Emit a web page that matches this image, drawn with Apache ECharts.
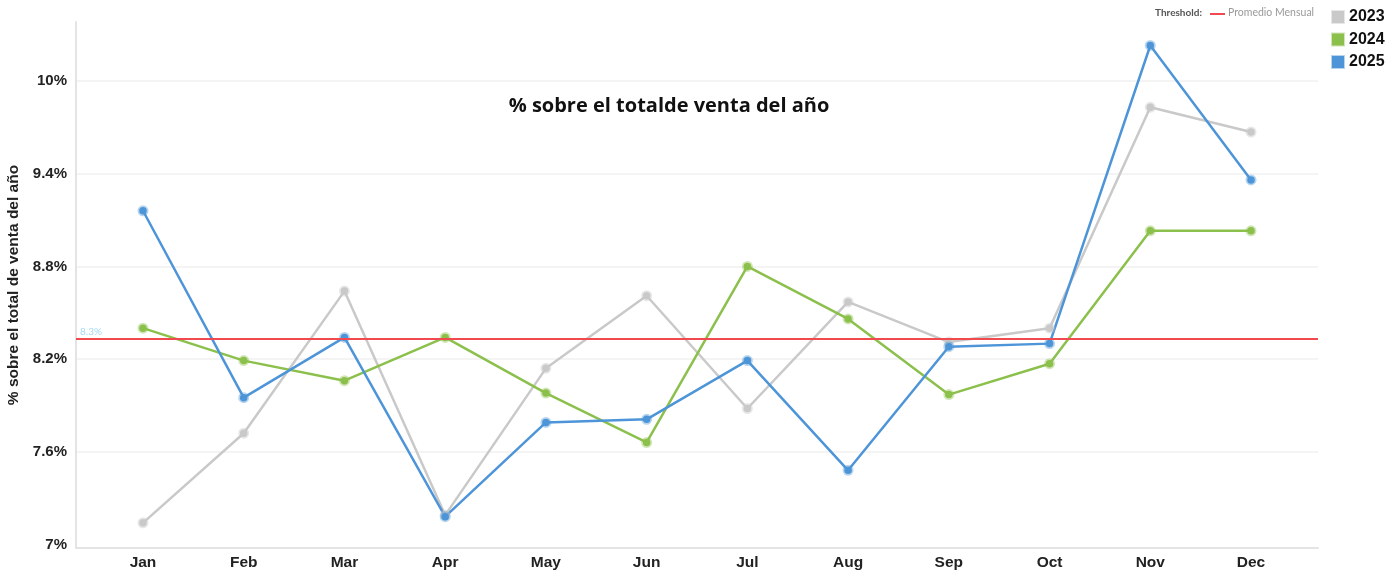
<!DOCTYPE html>
<html>
<head>
<meta charset="utf-8">
<script src="https://cdn.jsdelivr.net/npm/echarts@6/dist/echarts.min.js"></script>
<style>
  html, body { margin: 0; padding: 0; background: #fff; }
  #chart { width: 1397px; height: 571px; }
</style>
</head>
<body>
<div id="chart"></div>
<script>
  // datos (% sobre el total de venta del año)
  const months = ['Jan', 'Feb', 'Mar', 'Apr', 'May', 'Jun', 'Jul', 'Aug', 'Sep', 'Oct', 'Nov', 'Dec']
  const yLabels = [7, 7.6, 8.2, 8.8, 9.4, 10]
  const yGridLines = [7.6, 8.2, 8.8, 9.4, 10]
  const years = ['2023', '2024', '2025']
  const data2023 = [7.14, 7.72, 8.64, 7.19, 8.14, 8.61, 7.88, 8.57, 8.31, 8.40, 9.83, 9.67]
  const data2024 = [8.40, 8.19, 8.06, 8.34, 7.98, 7.66, 8.80, 8.46, 7.97, 8.17, 9.03, 9.03]
  const data2025 = [9.16, 7.95, 8.34, 7.18, 7.79, 7.81, 8.19, 7.48, 8.28, 8.30, 10.23, 9.36]
  const threshold = 8.333

  const colors = {
    '2023': ['#c9c9c9', 'rgba(201,201,201,0.45)'],
    '2024': ['#8cc04c', 'rgba(140,192,76,0.4)'],
    '2025': ['#4d95d8', 'rgba(77,149,216,0.4)']
  }

  const chart = echarts.init(document.getElementById('chart'))

  function makeSeries(name, values) {
    return {
      name: name,
      type: 'line',
      data: values.map((v, i) => [i, v]),
      symbol: 'circle',
      symbolSize: 7.5,
      showSymbol: true,
      lineStyle: { color: colors[name][0], width: 2.5 },
      itemStyle: {
        color: colors[name][0],
        borderColor: colors[name][1],
        borderWidth: 3.5
      },
      emphasis: { disabled: true },
      animation: false
    }
  }

  const series = [
    makeSeries('2023', data2023),
    makeSeries('2024', data2024),
    makeSeries('2025', data2025)
  ]
  // línea del promedio mensual
  series[2].markLine = {
    silent: true,
    symbol: 'none',
    lineStyle: { color: '#f04a50', width: 2, type: 'solid' },
    label: {
      position: 'insideStartTop',
      formatter: '8.3%',
      color: '#a6d8f2',
      fontSize: 10,
      fontFamily: 'Lato',
      distance: [4, 2]
    },
    data: [{ yAxis: threshold }]
  }

  const option = {
    backgroundColor: '#fff',
    title: {
      text: '% sobre el totalde venta del año',
      left: 664,
      top: 91,
      textAlign: 'center',
      textStyle: {
        fontFamily: 'Open Sans',
        fontWeight: 'bold',
        fontSize: 20,
        color: '#111'
      }
    },
    legend: {
      data: years,
      orient: 'vertical',
      left: 1331,
      top: 9,
      padding: 0,
      itemWidth: 12,
      itemHeight: 12,
      itemGap: 6.5,
      icon: 'rect',
      selectedMode: false,
      textStyle: {
        fontFamily: 'Liberation Sans',
        fontWeight: 'bold',
        fontSize: 16,
        color: '#111'
      }
    },
    graphic: [
      {
        type: 'text', left: 1155, top: 8,
        style: { text: 'Threshold:', fontFamily: 'Lato', fontWeight: 'bold', fontSize: 10, fill: '#555' }
      },
      {
        type: 'line', shape: { x1: 1210, y1: 14, x2: 1225, y2: 14 },
        style: { stroke: '#f04a50', lineWidth: 2 }
      },
      {
        type: 'text', left: 1228, top: 7,
        style: { text: 'Promedio Mensual', fontFamily: 'Lato', fontSize: 10.5, fill: '#999' }
      }
    ],
    grid: { left: 76, right: 79, top: 22, bottom: 23, outerBoundsMode: 'none' },
    xAxis: {
      type: 'value',
      min: -0.665,
      max: 11.665,
      axisLine: { show: true, onZero: false, lineStyle: { color: '#e4e4e4', width: 2 } },
      axisTick: { show: false },
      splitLine: { show: false },
      axisLabel: {
        customValues: months.map((m, i) => i),
        formatter: (v) => months[Math.round(v)],
        margin: 7,
        fontFamily: 'Liberation Sans',
        fontWeight: 'bold',
        fontSize: 15.5,
        color: '#222'
      }
    },
    yAxis: {
      type: 'value',
      min: 6.977,
      max: 10.382,
      name: '% sobre el total de venta del año',
      nameLocation: 'middle',
      nameGap: 51,
      nameTextStyle: {
        fontFamily: 'Liberation Sans',
        fontWeight: 'bold',
        fontSize: 15.5,
        color: '#222'
      },
      axisLine: { show: true, onZero: false, lineStyle: { color: '#e4e4e4', width: 2 } },
      axisTick: { show: false, customValues: yGridLines },
      splitLine: { show: true, lineStyle: { color: '#f0f0f0', width: 1.5 } },
      axisLabel: {
        customValues: yLabels,
        formatter: (v) => v + '%',
        margin: 9,
        fontFamily: 'Liberation Sans',
        fontWeight: 'bold',
        fontSize: 15,
        color: '#222'
      }
    },
    series: series
  }

  chart.setOption(option)
</script>
</body>
</html>
